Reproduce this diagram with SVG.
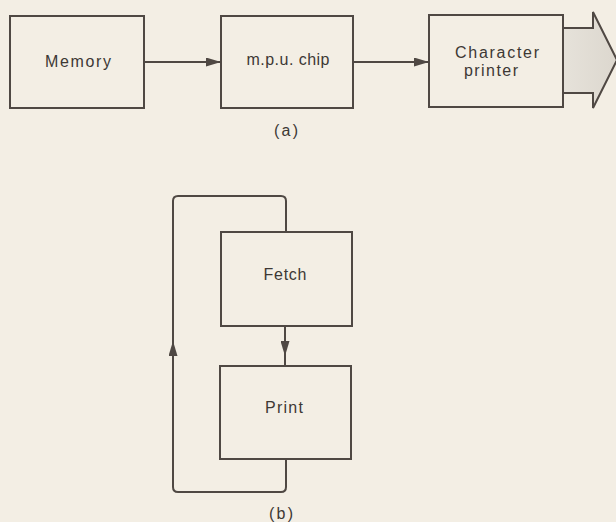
<svg xmlns="http://www.w3.org/2000/svg" width="616" height="522" viewBox="0 0 616 522">
<defs>
<style>
.box{fill:none;stroke:#4f4843;stroke-width:2}
.ln{fill:none;stroke:#4f4843;stroke-width:2}
.t{font-family:"Liberation Sans",Arial,sans-serif;font-size:16px;fill:#3d3834;text-anchor:middle}
</style>
<marker id="ah" markerUnits="userSpaceOnUse" markerWidth="15" markerHeight="9" refX="15" refY="4.5" orient="auto">
<path d="M0,0 L15,4.5 L0,9 z" fill="#4f4843"/>
</marker>
<linearGradient id="g" x1="0" y1="0" x2="1" y2="0">
<stop offset="0" stop-color="#e6e2da"/>
<stop offset="1" stop-color="#dcd7ce"/>
</linearGradient>
</defs>
<rect width="616" height="522" fill="#f3eee4"/>
<g id="memory">
<rect class="box" x="10" y="16" width="134" height="92"/>
<text class="t" x="78" y="67" textLength="66" lengthAdjust="spacing">Memory</text>
</g>
<g id="mpu">
<rect class="box" x="221" y="16" width="132" height="92"/>
<text class="t" x="288" y="65" textLength="83" lengthAdjust="spacing">m.p.u. chip</text>
</g>
<g id="printer">
<rect class="box" x="429" y="15" width="134" height="92"/>
<text class="t" x="497" y="58" textLength="84" lengthAdjust="spacing">Character</text>
<text class="t" x="491" y="76" textLength="54" lengthAdjust="spacing">printer</text>
</g>
<g id="output">
<polygon points="563,28 593,28 593,12 617,60 593,108 593,93 563,93" fill="url(#g)" stroke="#4f4843" stroke-width="2" stroke-linejoin="miter"/>
</g>
<g id="fetch">
<rect class="box" x="221" y="232" width="131" height="94"/>
<text class="t" x="285" y="280" textLength="43" lengthAdjust="spacing">Fetch</text>
</g>
<g id="print">
<rect class="box" x="220" y="366" width="131" height="93"/>
<text class="t" x="284" y="413" textLength="38" lengthAdjust="spacing">Print</text>
</g>
<g id="connectors">
<path class="ln" d="M144,62 H221" marker-end="url(#ah)"/>
<path class="ln" d="M353,62 H429" marker-end="url(#ah)"/>
<path class="ln" d="M285,326 V356" marker-end="url(#ah)"/>
<path class="ln" d="M285,354 V366"/>
<path class="ln" d="M286,459 V487 Q286,492 281,492 H178 Q173,492 173,487 V201 Q173,196 178,196 H281 Q286,196 286,201 V232"/>
<path class="ln" d="M173,362 V341" marker-end="url(#ah)"/>
</g>
<g id="captions">
<text class="t" x="286" y="136" textLength="24" lengthAdjust="spacing">(a)</text>
<text class="t" x="281" y="519" textLength="24" lengthAdjust="spacing">(b)</text>
</g>
</svg>
